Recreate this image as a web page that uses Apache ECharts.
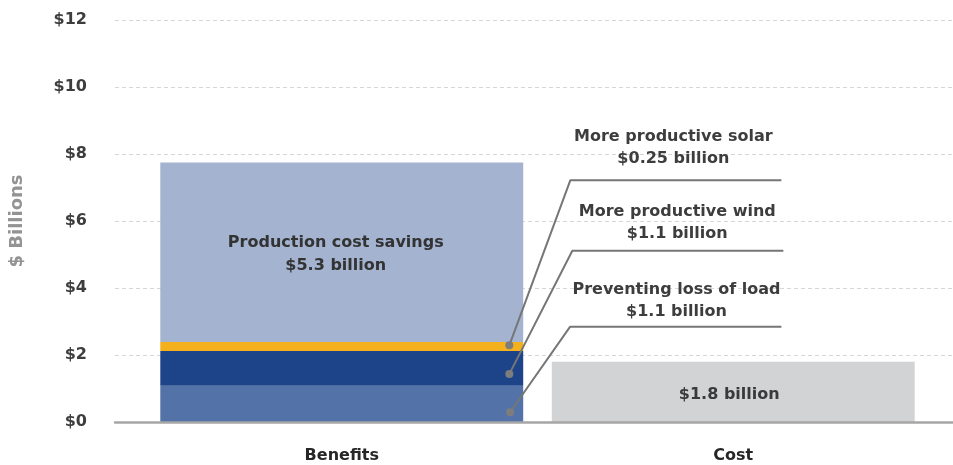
<!DOCTYPE html>
<html><head><meta charset="utf-8">
<script src="https://cdn.jsdelivr.net/npm/echarts@6/dist/echarts.min.js"></script>
<style>html,body{margin:0;padding:0;background:#fff}#c{width:953px;height:465px}</style>
</head><body><div id="c"></div>
<script>
// ---- data ----
const categories = ['Benefits', 'Cost'];
const yTicks = [0, 2, 4, 6, 8, 10, 12];
const lossOfLoad = [1.08, '-'];
const moreWind = [1.04, '-'];
const moreSolar = [0.27, '-'];
const productionSavings = [5.36, '-'];
const costValues = ['-', 1.8];
const productionLabel = 'Production cost savings\n$5.3 billion';
const costLabel = '$1.8 billion';
const annotationTexts = [
  'More productive solar\n$0.25 billion',
  'More productive wind\n$1.1 billion',
  'Preventing loss of load\n$1.1 billion'
];
// leader lines in data units (x: 0..2 across the two category bands, y: $ billions)
const leaderLines = [
  [[0.928, 2.29], [1.084, 7.22], [1.623, 7.22]],
  [[0.928, 1.43], [1.089, 5.11], [1.628, 5.11]],
  [[0.930, 0.29], [1.083, 2.84], [1.623, 2.84]]
];
const annotationAnchors = [[1.347, 8.18], [1.357, 5.94], [1.355, 3.63]];

const FONT = 'DejaVu Sans';
const chart = echarts.init(document.getElementById('c'), null, {renderer: 'canvas'});

function leaderSeries(pts) {
  return {
    type: 'line', xAxisIndex: 2, yAxisIndex: 1, silent: true, z: 5,
    data: pts.map((p, i) => ({value: p, symbolSize: i === 0 ? 8 : 0})),
    symbol: 'circle', showSymbol: true,
    lineStyle: {color: '#767676', width: 2},
    itemStyle: {color: '#7d7d7d'},
    emphasis: {disabled: true}, animation: false
  };
}

const option = {
  animation: false,
  grid: [
    {left: 111, right: 0, top: 20, bottom: 43},
    {left: 146, right: 24, top: 20, bottom: 43}
  ],
  xAxis: [
    {gridIndex: 0, type: 'category', data: ['', ''], axisLine: {show: true, lineStyle: {color: '#a6a6a6', width: 2.5}},
     axisTick: {show: false}, axisLabel: {show: false}, splitLine: {show: false}, z: 10},
    {gridIndex: 1, type: 'category', data: categories, axisLine: {show: false}, axisTick: {show: false},
     axisLabel: {margin: 26, fontFamily: FONT, fontWeight: 'bold', fontSize: 16, color: '#262626'}},
    {gridIndex: 1, type: 'value', min: 0, max: 2, position: 'top', show: false}
  ],
  yAxis: [
    {gridIndex: 0, type: 'value', min: yTicks[0], max: yTicks[yTicks.length - 1], interval: 2,
     name: '$ Billions', nameLocation: 'middle', nameGap: 89,
     nameTextStyle: {fontFamily: FONT, fontSize: 18, color: '#939393', fontWeight: 'bold'},
     axisLine: {show: false}, axisTick: {show: false},
     axisLabel: {margin: 28, fontFamily: FONT, fontWeight: 'bold', fontSize: 16, color: '#3d3d3d',
                 formatter: v => '$' + v},
     splitLine: {show: true, lineStyle: {color: '#d6d6d6', type: [4, 3], width: 1}}},
    {gridIndex: 1, type: 'value', min: 0, max: 12, show: false, splitLine: {show: false}}
  ],
  series: [
    {name: 'Preventing loss of load', type: 'bar', stack: 'total', xAxisIndex: 1, yAxisIndex: 1,
     data: lossOfLoad, barWidth: '92.7%', itemStyle: {color: '#5373a8'}},
    {name: 'More productive wind', type: 'bar', stack: 'total', xAxisIndex: 1, yAxisIndex: 1,
     data: moreWind, itemStyle: {color: '#1d4488'}},
    {name: 'More productive solar', type: 'bar', stack: 'total', xAxisIndex: 1, yAxisIndex: 1,
     data: moreSolar, itemStyle: {color: '#f5b11d'}},
    {name: 'Production cost savings', type: 'bar', stack: 'total', xAxisIndex: 1, yAxisIndex: 1,
     data: productionSavings, itemStyle: {color: '#a3b3d0'},
     label: {show: true, position: 'inside', offset: [-6, 2], formatter: productionLabel, fontFamily: FONT,
             fontWeight: 'bold', fontSize: 16, lineHeight: 23, color: '#333'}},
    {name: 'Cost', type: 'bar', stack: 'total', xAxisIndex: 1, yAxisIndex: 1,
     data: costValues, itemStyle: {color: '#d2d3d5'},
     label: {show: true, position: 'inside', offset: [-4, 3], formatter: costLabel, fontFamily: FONT,
             fontWeight: 'bold', fontSize: 16, color: '#3a3a3a'}},
    ...leaderLines.map(leaderSeries),
    {type: 'scatter', xAxisIndex: 2, yAxisIndex: 1, silent: true, z: 6,
     data: annotationAnchors.map((p, i) => ({value: p, label: {formatter: annotationTexts[i]}})),
     symbolSize: 0, itemStyle: {color: '#3d3d3d'}, emphasis: {disabled: true},
     label: {show: true, position: 'inside', fontFamily: FONT, fontWeight: 'bold', fontSize: 16,
             lineHeight: 22, color: '#3d3d3d', opacity: 1, align: 'center', verticalAlign: 'middle'}}
  ]
};
chart.setOption(option);
</script></body></html>
